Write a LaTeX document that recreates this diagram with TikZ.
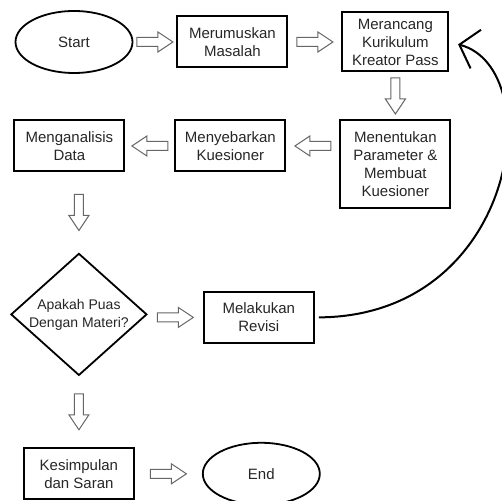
\documentclass[tikz,border=0pt]{standalone}
\usepackage{fontspec}
\setmainfont{Liberation Sans}
\usetikzlibrary{arrows.meta,positioning,calc,shapes.geometric}

\begin{document}
\begin{tikzpicture}[
  font=\fontsize{15}{18}\selectfont,
  >=Latex,
  terminal/.style={ellipse, draw=black, line width=1.8pt, text=black!85,
    minimum width=117pt, minimum height=62pt, inner sep=0pt},
  process/.style={draw=black, line width=2pt, text=black!85, align=center,
    minimum width=110pt, minimum height=51pt, inner sep=2pt},
  decision/.style={diamond, draw=black, line width=1.8pt, text=black!85, align=center,
    minimum width=136pt, minimum height=122pt, inner sep=0pt, aspect=1.1,
    font=\fontsize{14}{18}\selectfont},
  blockarrow/.style={draw=black!60, line width=1pt, fill=white, to path={
    let \p1=($(\tikztostart)!.5!(\tikztotarget)!18pt!(\tikztostart)$),
        \p2=($(\tikztostart)!.5!(\tikztotarget)!18pt!(\tikztotarget)$),
        \p3=($(\p2)!15pt!(\p1)$) in
    ($(\p1)!4.5pt!90:(\p2)$) -- ($(\p3)!4.5pt!-90:(\p1)$) -- ($(\p3)!10pt!-90:(\p1)$) -- (\p2)
    -- ($(\p3)!10pt!90:(\p1)$) -- ($(\p3)!4.5pt!90:(\p1)$) -- ($(\p1)!4.5pt!-90:(\p2)$) -- cycle}},
  loopback/.style={-{Straight Barb[length=17pt,width=40pt]}, line width=2pt, draw=black}
]
\useasboundingbox (0,0) rectangle (502pt,500pt);

\node[terminal] (start) at (74pt,458pt) {Start};
\node[process, right=43pt of start] (merumuskan) {Merumuskan\\Masalah};
\node[process, right=53pt of merumuskan, minimum width=106pt, minimum height=59pt] (merancang) {Merancang\\Kurikulum\\Kreator Pass};
\node[process, below=47pt of merancang, minimum height=88pt] (menentukan) {Menentukan\\Parameter \&\\Membuat\\Kuesioner};
\node[process, left=53pt of menentukan.north west, anchor=north east] (menyebarkan) {Menyebarkan\\Kuesioner};
\node[process, left=49pt of menyebarkan] (menganalisis) {Menganalisis\\Data};

\node[decision, below=80pt of menganalisis, xshift=9.5pt] (keputusan) {Apakah Puas\\Dengan Materi?};
\node[process, right=55pt of keputusan, yshift=-3pt] (revisi) {Melakukan\\Revisi};
\node[process, below=71pt of keputusan] (kesimpulan) {Kesimpulan\\dan Saran};
\node[terminal, right=67pt of kesimpulan] (selesai) {End};

\draw[blockarrow] (start.east) to (merumuskan.west);
\draw[blockarrow] (merumuskan.east) to (merancang.west);
\draw[blockarrow] (merancang.south) to (menentukan.north);
\draw[blockarrow] (menentukan.west |- menyebarkan.east) to (menyebarkan.east);
\draw[blockarrow] (menyebarkan.west) to (menganalisis.east);
\draw[blockarrow] (menganalisis.south -| keputusan.north) to (keputusan.north);
\draw[blockarrow] (keputusan.east |- revisi.west) to (revisi.west);
\draw[blockarrow] (keputusan.south) to (kesimpulan.north);
\draw[blockarrow] (kesimpulan.east) to (selesai.west);

\draw[loopback, shorten <=4pt, shorten >=9pt] (revisi.east) .. controls +(203pt,1pt) and +(100pt,-27pt) .. (merancang.east);

\end{tikzpicture}
\end{document}
